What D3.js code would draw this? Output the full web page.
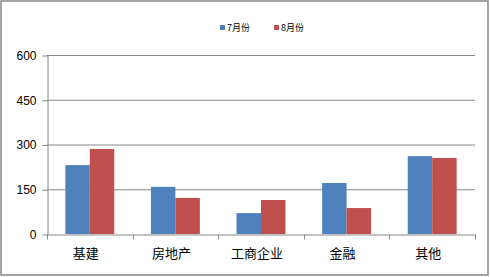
<!DOCTYPE html>
<html>
<head>
<meta charset="utf-8">
<script src="https://cdn.jsdelivr.net/npm/d3@7"></script>
<style>
  body { margin: 0; background: #fff; }
  text { font-family: "Liberation Sans", Arial, "Noto Sans CJK SC", sans-serif; }
</style>
</head>
<body>
<div id="chart"></div>
<script>
// data
var categories = ["基建", "房地产", "工商企业", "金融", "其他"];
var seriesNames = ["7月份", "8月份"];
var july = [231, 158, 70, 171, 261];
var august = [285, 121, 114, 87, 255];
var yTicks = [0, 150, 300, 450, 600];
var colors = ["#4F81BD", "#C0504D"];

var W = 490, H = 277;
var margin = {top: 55, right: 15, bottom: 43, left: 47},
    width = W - margin.left - margin.right,
    height = H - margin.top - margin.bottom;

var root = d3.select("#chart").append("svg")
  .attr("width", W)
  .attr("height", H);

// outer border
root.append("rect")
  .attr("x", 1).attr("y", 1)
  .attr("width", W - 3).attr("height", H - 3)
  .style("fill", "#fff")
  .style("stroke", "#868686")
  .style("stroke-width", 1.5);

var svg = root.append("g")
  .attr("transform", "translate(" + margin.left + "," + margin.top + ")");

var x = d3.scaleBand()
  .domain(categories)
  .range([0, width]);

var x1 = d3.scaleBand()
  .domain(seriesNames)
  .range([0, x.bandwidth()])
  .paddingOuter(0.75)
  .paddingInner(0);

var y = d3.scaleLinear()
  .domain([0, 600])
  .range([height, 0]);

// gridlines
svg.append("g")
  .selectAll("line")
  .data(yTicks.slice(1))
  .enter()
  .append("line")
    .attr("x1", 0).attr("x2", width)
    .attr("y1", d => y(d) + 0.5).attr("y2", d => y(d) + 0.5)
    .style("stroke", "#868686");

// y axis
var yAxis = svg.append("g")
  .attr("transform", "translate(0.5,0.5)")
  .call(d3.axisLeft(y).tickValues(yTicks).tickSize(5).tickPadding(6).tickSizeOuter(0));
yAxis.selectAll("line, path").style("stroke", "#868686");
yAxis.selectAll("text").style("font-size", "12px").style("fill", "#000");

// bars
var table = categories.map((c, i) => ({cat: c, values: [july[i], august[i]]}));

var groups = svg.selectAll(".grp")
  .data(table)
  .enter()
  .append("g")
    .attr("transform", d => "translate(" + x(d.cat) + ",0)");

groups.selectAll("rect")
  .data(d => d.values.map((v, j) => ({s: seriesNames[j], v: v, j: j})))
  .enter()
  .append("rect")
    .attr("x", d => x1(d.s))
    .attr("y", d => y(d.v))
    .attr("width", x1.bandwidth())
    .attr("height", d => height - y(d.v))
    .style("fill", d => colors[d.j]);

// x axis
var xAxis = svg.append("g")
  .attr("transform", "translate(0," + (height + 0.5) + ")")
  .call(d3.axisBottom(x).tickSize(0).tickPadding(14));
xAxis.select(".domain").style("stroke", "#868686");
xAxis.selectAll("text")
  .attr("dx", "-4")
  .style("font-size", "13px")
  .style("font-family", "'Noto Sans CJK SC', sans-serif")
  .style("fill", "#000");

// category boundary ticks
xAxis.selectAll(".sep")
  .data(d3.range(categories.length + 1))
  .enter()
  .append("line")
    .attr("x1", i => Math.round(i * x.bandwidth()) + 0.5)
    .attr("x2", i => Math.round(i * x.bandwidth()) + 0.5)
    .attr("y1", 0).attr("y2", 5)
    .style("stroke", "#868686");

// legend
var legend = root.append("g")
  .attr("transform", "translate(220,25)");

var item = legend.selectAll("g")
  .data(seriesNames)
  .enter()
  .append("g")
    .attr("transform", (d, i) => "translate(" + (i * 54) + ",0)");

item.append("rect")
  .attr("width", 5).attr("height", 5)
  .style("fill", (d, i) => colors[i]);

item.append("text")
  .attr("x", 7).attr("y", 6)
  .style("font-size", "9px")
  .style("font-family", "'Noto Sans CJK SC', sans-serif")
  .text(d => d);
</script>
</body>
</html>
